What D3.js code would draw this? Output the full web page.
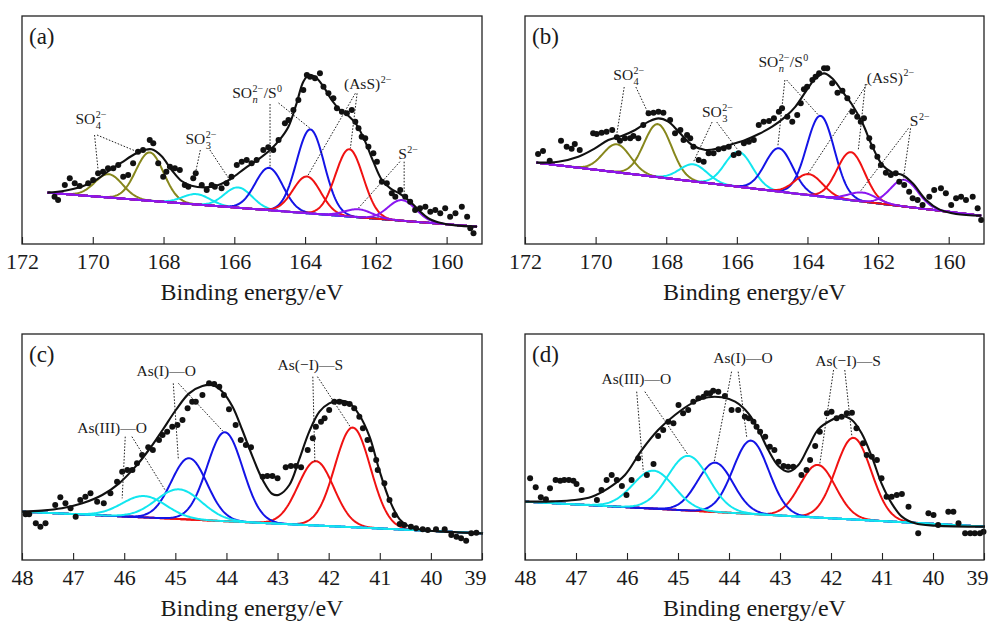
<!DOCTYPE html>
<html>
<head>
<meta charset="utf-8">
<script src="https://cdn.jsdelivr.net/npm/d3@7/dist/d3.min.js"></script>
<style>
  body { margin: 0; background: #fff; }
  svg { display: block; }
  text { font-family: "Liberation Serif", "Times New Roman", serif; fill: #1a1a1a; }
</style>
</head>
<body>
<svg id="fig" width="993" height="621"></svg>
<script>
// ---------- axis ticks ----------
const sTicks = [172, 170, 168, 166, 164, 162, 160];
const asTicks = [48, 47, 46, 45, 44, 43, 42, 41, 40, 39];

// ---------- (a) S 2p ----------
const aBaseline = [[171.28, 154], [159.14, 52]];
// fitted components: centre (eV), height above background, FWHM (eV)
const aPeaks = [
  { species: "SO4", center: 169.55, height: 70, fwhm: 0.92 },
  { species: "SO4", center: 168.39, height: 145, fwhm: 0.92 },
  { species: "SO3", center: 167.07, height: 31, fwhm: 0.92 },
  { species: "SO3", center: 165.89, height: 61, fwhm: 0.92 },
  { species: "SOn", center: 165.02, height: 127, fwhm: 0.92 },
  { species: "SOn", center: 163.85, height: 252, fwhm: 0.92 },
  { species: "AsS", center: 163.95, height: 110, fwhm: 0.92 },
  { species: "AsS", center: 162.75, height: 202, fwhm: 0.92 },
  { species: "S", center: 162.49, height: 24, fwhm: 0.92 },
  { species: "S", center: 161.26, height: 62, fwhm: 0.92 }
];
const aEnvelope = [
  [171.28, 154], [170.79, 160], [170.32, 172], [169.94, 190], [169.55, 219], [169.19, 244],
  [168.81, 270], [168.53, 282], [168.34, 284], [168.06, 264], [167.77, 222], [167.49, 189],
  [167.21, 175], [166.83, 170], [166.45, 177], [166.08, 197], [165.70, 227], [165.32, 254],
  [164.99, 282], [164.71, 314], [164.47, 352], [164.24, 422], [164.05, 487], [163.89, 506],
  [163.72, 502], [163.48, 472], [163.25, 432], [163.01, 402], [162.77, 384], [162.54, 357],
  [162.30, 307], [162.07, 247], [161.83, 192], [161.59, 167], [161.31, 150], [161.08, 132],
  [160.79, 102], [160.51, 77], [160.13, 62], [159.75, 56], [159.14, 52]
];
const aDots = [
  [171.08, 142], [170.98, 132], [170.79, 177], [170.65, 197], [170.51, 182], [170.37, 174],
  [170.13, 182], [169.99, 192], [169.85, 212], [169.71, 217], [169.57, 227], [169.42, 227],
  [169.28, 237], [169.14, 202], [169.00, 207], [168.86, 242], [168.72, 277], [168.58, 282],
  [168.39, 312], [168.29, 302], [168.15, 242], [168.01, 202], [167.92, 217], [167.82, 232],
  [167.68, 227], [167.54, 222], [167.40, 177], [167.30, 172], [167.16, 197], [167.09, 212],
  [166.92, 177], [166.78, 162], [166.64, 177], [166.55, 172], [166.36, 167], [166.22, 182],
  [166.08, 202], [165.93, 237], [165.79, 247], [165.65, 252], [165.51, 242], [165.37, 252],
  [165.18, 282], [165.04, 290], [164.90, 282], [164.75, 312], [164.57, 362], [164.47, 372],
  [164.33, 402], [164.19, 432], [164.05, 462], [163.95, 507], [163.86, 502], [163.72, 497],
  [163.58, 512], [163.48, 472], [163.34, 452], [163.20, 437], [163.10, 407], [162.96, 397],
  [162.82, 392], [162.68, 402], [162.58, 367], [162.49, 347], [162.40, 322], [162.30, 317],
  [162.21, 292], [162.07, 272], [161.97, 247], [161.83, 187], [161.69, 182], [161.55, 152],
  [161.45, 142], [161.31, 162], [161.17, 142], [161.03, 127], [160.89, 102], [160.75, 107],
  [160.60, 112], [160.46, 97], [160.32, 102], [160.18, 92], [160.04, 107], [159.90, 82],
  [159.75, 92], [159.57, 112], [159.42, 82], [159.33, 47], [159.24, 32]
];
const aLeaders = [
  [169.95, 327, 169.85, 222], [169.88, 327, 168.75, 277],
  [166.96, 282, 167.12, 202], [166.69, 282, 166.09, 186],
  [164.99, 420, 164.99, 231], [164.75, 423, 163.86, 347],
  [162.58, 452, 163.94, 202], [162.53, 452, 162.72, 287],
  [161.32, 247, 162.49, 108], [161.20, 247, 161.20, 144]
];
const aLabels = [
  { species: "SO4", at: [170.49, 360] },
  { species: "SO3", at: [167.38, 300] },
  { species: "SOn", at: [166.06, 437] },
  { species: "AsS", at: [162.90, 464] },
  { species: "S", at: [161.37, 254] }
];

// ---------- (b) S 2p ----------
const bBaseline = [[171.68, 244], [159.08, 85]];
const bPeaks = [
  { species: "SO4", center: 169.40, height: 84, fwhm: 0.92 },
  { species: "SO4", center: 168.24, height: 159, fwhm: 0.92 },
  { species: "SO3", center: 167.23, height: 51, fwhm: 0.92 },
  { species: "SO3", center: 165.95, height: 105, fwhm: 0.92 },
  { species: "SOn", center: 164.81, height: 130, fwhm: 0.92 },
  { species: "SOn", center: 163.63, height: 242, fwhm: 0.92 },
  { species: "AsS", center: 163.96, height: 63, fwhm: 0.92 },
  { species: "AsS", center: 162.77, height: 144, fwhm: 0.92 },
  { species: "S", center: 162.44, height: 27, fwhm: 0.92 },
  { species: "S", center: 161.26, height: 80, fwhm: 0.92 }
];
const bEnvelope = [
  [171.68, 244], [171.06, 247], [170.49, 262], [170.02, 287], [169.64, 312], [169.26, 324],
  [168.88, 342], [168.50, 367], [168.22, 377], [167.94, 367], [167.65, 337], [167.27, 297],
  [166.89, 282], [166.52, 287], [166.14, 299], [165.76, 312], [165.38, 330], [165.00, 352],
  [164.62, 382], [164.34, 412], [164.05, 457], [163.77, 497], [163.53, 512], [163.30, 497],
  [163.01, 457], [162.73, 417], [162.44, 362], [162.16, 292], [161.88, 237], [161.59, 214],
  [161.31, 207], [161.02, 182], [160.64, 132], [160.27, 104], [159.79, 90], [159.08, 85]
];
const bDots = [
  [171.63, 270], [171.49, 279], [171.30, 250], [170.98, 310], [170.82, 292], [170.68, 286],
  [170.59, 300], [170.45, 282], [170.07, 332], [169.97, 330], [169.83, 334], [169.69, 337],
  [169.53, 342], [169.40, 320], [169.31, 310], [169.17, 317], [169.02, 317], [168.93, 324],
  [168.79, 317], [168.65, 357], [168.50, 392], [168.36, 394], [168.22, 397], [168.08, 394],
  [167.89, 372], [167.75, 332], [167.60, 342], [167.51, 312], [167.41, 327], [167.32, 317],
  [167.23, 292], [167.08, 252], [166.94, 247], [166.80, 272], [166.66, 272], [166.52, 284],
  [166.37, 287], [166.23, 292], [166.09, 267], [165.95, 272], [165.80, 302], [165.66, 307],
  [165.52, 312], [165.38, 357], [165.24, 367], [165.09, 369], [164.95, 377], [164.81, 397],
  [164.72, 407], [164.57, 382], [164.43, 367], [164.29, 387], [164.19, 422], [164.10, 464],
  [164.01, 472], [163.86, 492], [163.77, 502], [163.67, 512], [163.53, 527], [163.44, 527],
  [163.30, 482], [163.15, 454], [163.01, 460], [162.87, 437], [162.73, 397], [162.59, 382],
  [162.49, 367], [162.40, 377], [162.25, 317], [162.16, 292], [162.02, 262], [161.92, 237],
  [161.78, 214], [161.64, 207], [161.50, 212], [161.40, 187], [161.26, 177], [161.12, 157],
  [161.02, 137], [160.88, 132], [160.74, 117], [160.55, 142], [160.41, 162], [160.22, 167],
  [160.08, 152], [159.93, 117], [159.79, 137], [159.65, 142], [159.51, 132], [159.32, 142],
  [159.18, 107], [159.08, 72]
];
const bLeaders = [
  [169.19, 471, 169.40, 330], [168.86, 471, 168.51, 392],
  [166.70, 366, 167.23, 246], [166.57, 366, 165.97, 282],
  [164.64, 492, 164.84, 292], [164.59, 492, 163.69, 387],
  [162.31, 480, 163.98, 212], [162.36, 480, 162.56, 282],
  [161.14, 347, 162.51, 157], [161.08, 347, 161.29, 192]
];
const bLabels = [
  { species: "SO4", at: [169.50, 492] },
  { species: "SO3", at: [166.99, 381] },
  { species: "SOn", at: [165.39, 530] },
  { species: "AsS", at: [162.32, 484] },
  { species: "S", at: [161.10, 354] }
];

// ---------- (c) As 3d ----------
const cBaseline = [[48.00, 145], [38.98, 80]];
const cPeaks = [
  { species: "AsO3", center: 45.61, height: 64, fwhm: 1.02 },
  { species: "AsO3", center: 44.93, height: 89, fwhm: 1.05 },
  { species: "AsO1", center: 44.73, height: 184, fwhm: 0.82 },
  { species: "AsO1", center: 44.03, height: 267, fwhm: 0.82 },
  { species: "AsSm", center: 42.25, height: 193, fwhm: 0.82 },
  { species: "AsSm", center: 41.53, height: 299, fwhm: 0.82 }
];
const cEnvelope = [
  [48.00, 145], [47.61, 148], [47.22, 155], [46.82, 170], [46.43, 195], [46.10, 230],
  [45.78, 280], [45.52, 330], [45.25, 390], [44.99, 450], [44.73, 500], [44.47, 522],
  [44.27, 524], [44.08, 505], [43.88, 460], [43.69, 390], [43.49, 310], [43.29, 240],
  [43.10, 198], [42.97, 196], [42.77, 225], [42.58, 300], [42.38, 385], [42.18, 445],
  [41.99, 470], [41.79, 478], [41.59, 470], [41.40, 435], [41.20, 370], [41.01, 270],
  [40.81, 180], [40.61, 122], [40.42, 100], [40.16, 90], [39.76, 85], [38.98, 80]
];
const cDots = [
  [47.93, 137], [47.86, 137], [47.73, 110], [47.64, 100], [47.54, 110], [47.35, 165],
  [47.25, 188], [47.15, 170], [47.05, 155], [46.95, 130], [46.86, 180], [46.76, 190],
  [46.66, 200], [46.53, 175], [46.40, 170], [46.27, 200], [46.14, 235], [46.04, 265],
  [45.94, 270], [45.84, 270], [45.75, 290], [45.65, 315], [45.53, 338], [45.44, 330],
  [45.32, 360], [45.25, 375], [45.16, 385], [45.06, 400], [44.96, 405], [44.86, 420],
  [44.76, 455], [44.67, 475], [44.60, 475], [44.47, 495], [44.34, 530], [44.24, 528],
  [44.14, 520], [44.05, 495], [43.95, 452], [43.82, 405], [43.72, 360], [43.62, 345],
  [43.52, 338], [43.29, 250], [43.20, 252], [43.10, 252], [43.00, 245], [42.84, 278],
  [42.74, 282], [42.64, 282], [42.54, 278], [42.41, 330], [42.31, 365], [42.25, 400],
  [42.15, 415], [42.08, 425], [41.99, 450], [41.89, 475], [41.79, 475], [41.69, 470],
  [41.59, 468], [41.50, 455], [41.40, 430], [41.33, 395], [41.24, 360], [41.17, 332],
  [41.07, 300], [41.04, 270], [40.91, 230], [40.81, 180], [40.71, 135], [40.61, 108],
  [40.52, 105], [40.39, 100], [40.29, 95], [40.16, 92], [40.06, 90], [39.90, 92],
  [39.73, 92], [39.60, 75], [39.50, 70], [39.41, 65], [39.31, 58], [39.21, 80], [39.11, 82]
];
const cLeaders = [
  [45.04, 530, 44.94, 300], [44.94, 530, 44.06, 385],
  [45.98, 370, 46.04, 185], [45.85, 370, 45.20, 210],
  [42.31, 550, 42.27, 295], [42.22, 550, 41.58, 400]
];
const cLabels = [
  { species: "AsO1", at: [45.76, 552] },
  { species: "AsO3", at: [46.92, 382] },
  { species: "AsSm", at: [43.00, 570] }
];

// ---------- (d) As 3d ----------
const dBaseline = [[48.00, 175], [38.98, 100]];
const dPeaks = [
  { species: "AsO3", center: 45.48, height: 114, fwhm: 0.95 },
  { species: "AsO3", center: 44.80, height: 164, fwhm: 0.95 },
  { species: "AsO1", center: 44.27, height: 148, fwhm: 0.82 },
  { species: "AsO1", center: 43.57, height: 220, fwhm: 0.82 },
  { species: "AsSm", center: 42.26, height: 158, fwhm: 0.82 },
  { species: "AsSm", center: 41.56, height: 245, fwhm: 0.82 }
];
const dEnvelope = [
  [48.00, 175], [47.48, 176], [47.02, 180], [46.69, 190], [46.37, 215], [46.04, 255],
  [45.71, 330], [45.39, 390], [45.06, 435], [44.73, 470], [44.41, 488], [44.14, 488],
  [43.88, 475], [43.62, 440], [43.42, 390], [43.23, 330], [43.03, 282], [42.84, 265],
  [42.64, 285], [42.44, 340], [42.25, 392], [41.99, 420], [41.79, 432], [41.59, 420],
  [41.40, 380], [41.20, 310], [41.01, 230], [40.81, 170], [40.61, 130], [40.35, 110],
  [39.96, 103], [38.98, 100]
];
const dDots = [
  [47.90, 245], [47.79, 218], [47.69, 188], [47.59, 182], [47.51, 215], [47.40, 240],
  [47.31, 238], [47.23, 240], [47.14, 240], [47.05, 238], [46.99, 228], [46.89, 210],
  [46.59, 180], [46.50, 210], [46.40, 240], [46.30, 255], [46.20, 240], [46.10, 222],
  [46.01, 195], [45.91, 240], [45.78, 305], [45.61, 255], [45.48, 288], [45.39, 372],
  [45.29, 390], [45.19, 415], [45.09, 410], [44.99, 465], [44.90, 440], [44.80, 450],
  [44.70, 475], [44.60, 485], [44.50, 490], [44.44, 500], [44.37, 500], [44.31, 508],
  [44.21, 505], [44.08, 492], [43.95, 450], [43.82, 450], [43.69, 430], [43.61, 425],
  [43.52, 415], [43.46, 400], [43.39, 385], [43.29, 370], [43.20, 340], [43.11, 330],
  [43.03, 295], [42.93, 282], [42.84, 280], [42.74, 280], [42.58, 255], [42.48, 270],
  [42.41, 300], [42.31, 342], [42.22, 385], [42.08, 440], [41.99, 445], [41.89, 425],
  [41.79, 430], [41.69, 440], [41.59, 442], [41.50, 395], [41.37, 350], [41.30, 315],
  [41.20, 310], [41.10, 300], [41.01, 245], [40.91, 190], [40.81, 190], [40.71, 195],
  [40.61, 198], [40.48, 160], [40.29, 80], [40.09, 140], [39.99, 135], [39.90, 105],
  [39.70, 145], [39.60, 145], [39.50, 110], [39.37, 80], [39.27, 80], [39.18, 80],
  [39.08, 80], [39.01, 85]
];
const dLeaders = [
  [45.81, 505, 45.68, 265], [45.65, 505, 44.80, 315],
  [43.95, 565, 44.29, 295], [43.82, 565, 43.65, 366],
  [41.95, 570, 42.22, 288], [41.73, 570, 41.59, 370]
];
const dLabels = [
  { species: "AsO3", at: [46.50, 528] },
  { species: "AsO1", at: [44.31, 591] },
  { species: "AsSm", at: [42.31, 582] }
];

// ---------- styling ----------
const colour = {
  SO4: "#87871c", SO3: "#12e6ef", SOn: "#1414e6", AsS: "#f01212", S: "#8a16f0",
  AsO3: "#12e6ef", AsO1: "#1414e6", AsSm: "#f01212"
};
// parts of each annotation: plain text, or a stacked superscript / subscript
const labelParts = {
  SO4: [{ t: "SO" }, { sup: "2\u2212", sub: "4" }],
  SO3: [{ t: "SO" }, { sup: "2\u2212", sub: "3" }],
  SOn: [{ t: "SO" }, { sup: "2\u2212", sub: "n", italic: true }, { t: "/S" }, { sup: "0" }],
  AsS: [{ t: "(AsS)" }, { sup: "2\u2212" }],
  S: [{ t: "S" }, { sup: "2\u2212" }],
  AsO3: [{ t: "As(III)\u2014O" }],
  AsO1: [{ t: "As(I)\u2014O" }],
  AsSm: [{ t: "As(\u2212I)\u2014S" }]
};

const panels = [
  { tag: "(a)", box: [22, 16, 460, 228], xd: [172, 159], yd: [0, 684], ticks: sTicks,
    base: aBaseline, peaks: aPeaks, env: aEnvelope, dots: aDots, leaders: aLeaders, labels: aLabels,
    order: ["SO4", "SO3", "SOn", "AsS", "S"] },
  { tag: "(b)", box: [525, 16, 459, 228], xd: [172, 159], yd: [0, 684], ticks: sTicks,
    base: bBaseline, peaks: bPeaks, env: bEnvelope, dots: bDots, leaders: bLeaders, labels: bLabels,
    order: ["SO4", "SO3", "SOn", "AsS", "S"] },
  { tag: "(c)", box: [22, 334, 460, 226], xd: [48, 39], yd: [0, 678], ticks: asTicks,
    base: cBaseline, peaks: cPeaks, env: cEnvelope, dots: cDots, leaders: cLeaders, labels: cLabels,
    order: ["AsSm", "AsO1", "AsO3"] },
  { tag: "(d)", box: [525, 334, 459, 226], xd: [48, 39], yd: [0, 678], ticks: asTicks,
    base: dBaseline, peaks: dPeaks, env: dEnvelope, dots: dDots, leaders: dLeaders, labels: dLabels,
    order: ["AsSm", "AsO1", "AsO3"] }
];

const svg = d3.select("#fig");
const LN4 = 4 * Math.LN2;

panels.forEach(p => {
  const [L, T, Wd, Ht] = p.box;
  const x = d3.scaleLinear().domain(p.xd).range([L, L + Wd]);
  const y = d3.scaleLinear().domain(p.yd).range([T + Ht, T]);
  const g = svg.append("g");

  // linear background under the fit
  const [[e0, i0], [e1, i1]] = p.base;
  const bg = d3.scaleLinear().domain([e0, e1]).range([i0, i1]);
  const grid = d3.range(0, 1.0001, 0.0025).map(t => e0 + (e1 - e0) * t);

  const line = d3.line().x(d => x(d[0])).y(d => y(d[1]));

  // fitted components, each drawn on the background
  p.order.forEach(sp => {
    p.peaks.filter(k => k.species === sp).forEach(k => {
      const pts = grid.map(E => [E, bg(E) + k.height * Math.exp(-LN4 * (E - k.center) ** 2 / (k.fwhm * k.fwhm))]);
      g.append("path").attr("d", line(pts))
        .attr("fill", "none").attr("stroke", colour[sp]).attr("stroke-width", 2);
    });
  });

  // fit envelope
  g.append("path")
    .attr("d", d3.line().x(d => x(d[0])).y(d => y(d[1])).curve(d3.curveCatmullRom.alpha(0.5))(p.env))
    .attr("fill", "none").attr("stroke", "#111").attr("stroke-width", 2.1);

  // measured points
  g.selectAll("circle.pt").data(p.dots).join("circle")
    .attr("class", "pt").attr("cx", d => x(d[0])).attr("cy", d => y(d[1]))
    .attr("r", 3).attr("fill", "#111");

  // leader lines
  g.selectAll("line.ld").data(p.leaders).join("line")
    .attr("class", "ld")
    .attr("x1", d => x(d[0])).attr("y1", d => y(d[1]))
    .attr("x2", d => x(d[2])).attr("y2", d => y(d[3]))
    .attr("stroke", "#222").attr("stroke-width", 1).attr("stroke-dasharray", "1.6,1.6");

  // annotations
  p.labels.forEach(lb => {
    let cx = x(lb.at[0]);
    const cy = y(lb.at[1]);
    labelParts[lb.species].forEach(part => {
      if (part.t) {
        const t = g.append("text").attr("x", cx).attr("y", cy)
          .attr("font-size", 15.5).text(part.t);
        cx += t.node().getComputedTextLength();
      } else {
        let w = 0;
        if (part.sup) {
          const s = g.append("text").attr("x", cx + 0.5).attr("y", cy - 6.5)
            .attr("font-size", 10).text(part.sup);
          w = Math.max(w, s.node().getComputedTextLength());
        }
        if (part.sub) {
          const s = g.append("text").attr("x", cx + 0.5).attr("y", cy + 4.5)
            .attr("font-size", 10.5).attr("font-style", part.italic ? "italic" : null).text(part.sub);
          w = Math.max(w, s.node().getComputedTextLength());
        }
        cx += w + 1;
      }
    });
  });

  // frame
  g.append("rect").attr("x", L).attr("y", T).attr("width", Wd).attr("height", Ht)
    .attr("fill", "none").attr("stroke", "#222").attr("stroke-width", 1.3);

  // bottom axis with inward ticks
  const ax = g.append("g").attr("transform", `translate(0,${T + Ht})`)
    .call(d3.axisBottom(x).tickValues(p.ticks).tickSize(-7).tickPadding(9).tickFormat(d3.format("d")));
  ax.select(".domain").remove();
  ax.selectAll(".tick line").attr("stroke", "#222").attr("stroke-width", 1.1);
  const lastTick = p.ticks[p.ticks.length - 1];
  ax.selectAll(".tick text").attr("font-size", 22).attr("fill", "#1a1a1a")
    .attr("font-family", "'Liberation Serif', 'Times New Roman', serif")
    .attr("dx", d => (d === lastTick && p.xd[1] === lastTick) ? -7 : 0);

  // axis title
  g.append("text").attr("x", L + Wd / 2).attr("y", T + Ht + 56)
    .attr("text-anchor", "middle").attr("font-size", 24).text("Binding energy/eV");

  // panel tag
  g.append("text").attr("x", L + 7).attr("y", T + 28).attr("font-size", 23).text(p.tag);
});
</script>
</body>
</html>
